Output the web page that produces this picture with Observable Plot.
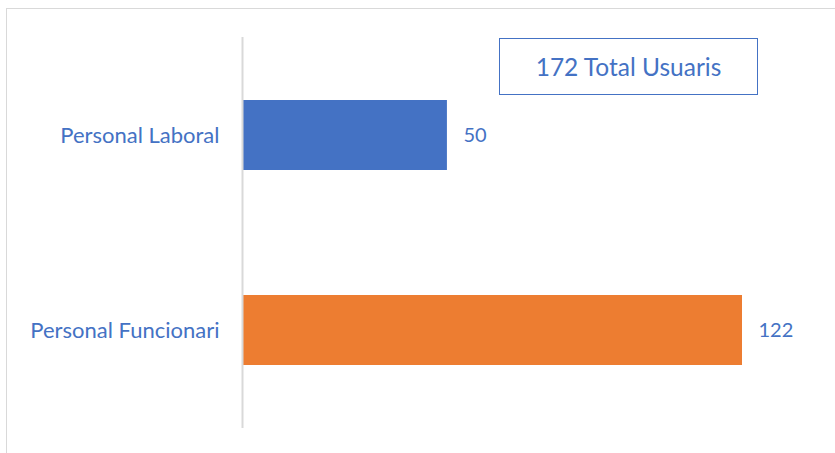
<!DOCTYPE html>
<html>
<head>
<meta charset="utf-8">
<script src="https://cdn.jsdelivr.net/npm/d3@7"></script>
<script src="https://cdn.jsdelivr.net/npm/@observablehq/plot@0.6"></script>
<style>
  html, body { margin: 0; padding: 0; background: #fff; }
  #wrap { position: relative; width: 835px; height: 453px; overflow: hidden; }
  #frame { position: absolute; left: 6px; top: 8px; width: 900px; height: 500px; border: 1.5px solid #d9d9d9; box-sizing: border-box; }
  #chart { position: absolute; left: 0; top: 0; }
  #total { position: absolute; left: 499px; top: 38px; width: 259px; height: 57px; border: 1.5px solid #4472C4; box-sizing: border-box;
           display: flex; align-items: center; justify-content: center; color: #4472C4; font-family: Lato, "Open Sans", sans-serif; font-size: 24.5px; background: #fff; }
</style>
</head>
<body>
<div id="wrap">
  <div id="frame"></div>
  <div id="chart"></div>
  <div id="total"></div>
</div>
<script>
const categories = ["Personal Laboral", "Personal Funcionari"];
const values = [50, 122];
const colors = ["#4472C4", "#ED7D31"];
const totalLabel = "Total Usuaris";

const data = categories.map((c, i) => ({category: c, value: values[i], color: colors[i]}));
const textColor = "#4472C4";

const chart = Plot.plot({
  width: 835,
  height: 453,
  marginLeft: 242,
  marginRight: 93,
  marginTop: 37,
  marginBottom: 25,
  style: {fontFamily: "Lato, 'Open Sans', sans-serif", background: "transparent"},
  x: {domain: [0, d3.max(values)], axis: null},
  y: {domain: categories, paddingInner: 0.642, paddingOuter: 0.321, label: null},
  marks: [
    Plot.barX(data, {x: "value", y: "category", fill: "color"}),
    Plot.ruleX([0], {stroke: "#d9d9d9", strokeWidth: 2}),
    Plot.axisY({tickSize: 0, tickPadding: 23, fontSize: 22, fill: textColor, label: null}),
    Plot.text(data, {x: "value", y: "category", text: d => String(d.value), textAnchor: "start", dx: 16, fontSize: 20, fill: textColor})
  ]
});
document.getElementById("chart").appendChild(chart);
document.getElementById("total").textContent = d3.sum(values) + " " + totalLabel;
</script>
</body>
</html>
